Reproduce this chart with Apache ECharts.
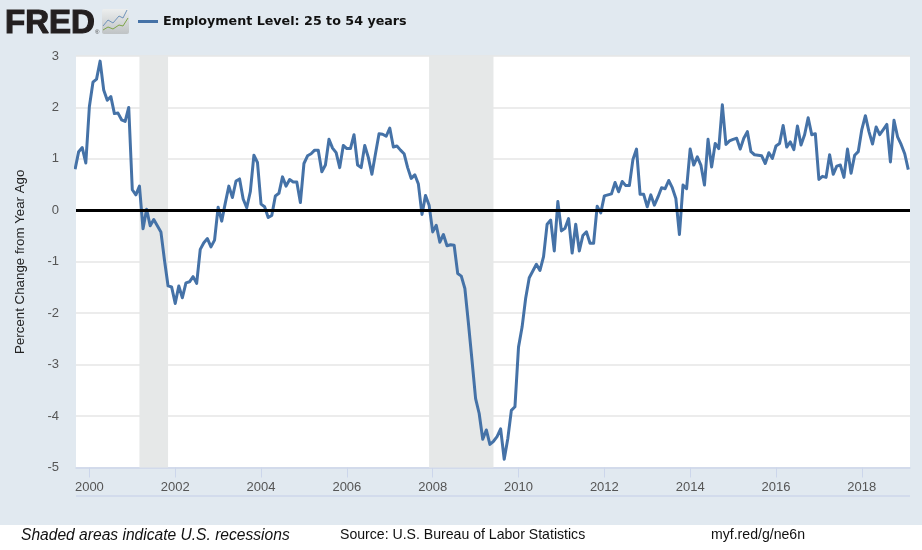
<!DOCTYPE html>
<html><head><meta charset="utf-8">
<style>html,body{margin:0;padding:0;background:#fff}#c{width:922px;height:550px}</style>
<script src="https://cdn.jsdelivr.net/npm/echarts@6/dist/echarts.min.js"></script>
</head><body><div id="c"></div>
<script>
const seriesName = 'Employment Level: 25 to 54 years';
const yAxisTitle = 'Percent Change from Year Ago';
const startYear = 1999, startMonth = 8; // September 1999, zero-based month
const values = [
0.80,1.14,1.22,0.92,2.02,2.49,2.55,2.90,2.34,2.14,2.21,1.88,1.89,1.76,1.73,2.00,0.40,0.30,0.47,-0.36,
0.02,-0.30,-0.18,-0.30,-0.42,-0.97,-1.47,-1.49,-1.81,-1.47,-1.70,-1.41,-1.39,-1.29,-1.42,-0.76,-0.63,-0.55,-0.71,-0.58,
0.06,-0.21,0.14,0.47,0.25,0.57,0.61,0.22,0.05,0.36,1.07,0.93,0.12,0.07,-0.14,-0.10,0.28,0.33,0.65,0.47,
0.60,0.55,0.55,0.15,0.91,1.06,1.10,1.17,1.17,0.75,0.88,1.38,1.21,1.12,0.83,1.26,1.20,1.20,1.47,0.88,
0.83,1.26,1.03,0.70,1.10,1.49,1.48,1.44,1.60,1.23,1.25,1.17,1.10,0.83,0.62,0.69,0.51,-0.08,0.29,0.10,
-0.42,-0.29,-0.62,-0.47,-0.69,-0.67,-0.68,-1.23,-1.28,-1.52,-2.20,-2.92,-3.66,-3.95,-4.45,-4.27,-4.55,-4.49,-4.40,-4.25,
-4.84,-4.44,-3.89,-3.82,-2.66,-2.27,-1.71,-1.31,-1.18,-1.05,-1.17,-0.90,-0.27,-0.19,-0.79,0.17,-0.40,-0.35,-0.16,-0.83,
-0.27,-0.79,-0.49,-0.42,-0.64,-0.64,0.08,-0.05,0.28,0.30,0.32,0.54,0.36,0.56,0.48,0.48,0.99,1.19,0.31,0.31,
0.07,0.30,0.10,0.26,0.44,0.42,0.58,0.44,0.23,-0.47,0.49,0.42,1.19,0.88,1.04,0.88,0.49,1.38,0.84,1.30,
1.20,2.05,1.28,1.35,1.38,1.40,1.19,1.40,1.53,1.14,1.08,1.07,1.06,0.91,1.12,1.01,1.25,1.30,1.65,1.23,
1.33,1.18,1.64,1.27,1.47,1.80,1.47,1.49,0.60,0.66,0.64,1.08,0.70,0.86,0.88,0.64,1.19,0.72,1.07,1.14,
1.57,1.84,1.53,1.29,1.62,1.47,1.57,1.67,0.94,1.75,1.43,1.28,1.10,0.79];
const recessionStarts = [[2001,2],[2007,11]];
const recessionEnds = [[2001,10],[2009,5]];
const tickYears = [2000,2002,2004,2006,2008,2010,2012,2014,2016,2018];
const yTicks = {min:-5, max:3, interval:1};
const viewStart = 1999.688, viewEnd = 2019.123;

const yearPos = (y,m)=>y+m/12;
const points = values.map((v,i)=>[yearPos(startYear,startMonth+i), v]);
const bands = recessionStarts.map((s,i)=>[{xAxis:yearPos(s[0],s[1])},{xAxis:yearPos(recessionEnds[i][0],recessionEnds[i][1])}]);

const chart = echarts.init(document.getElementById('c'),null,{renderer:'canvas'});
const T = (x,y,text,font,fill,extra)=>({type:'text',x,y,silent:true,style:Object.assign({text,font,fill,textVerticalAlign:'middle'},extra||{})});
chart.setOption({
  animation:false,
  backgroundColor:'#e1e9f0',
  grid:{left:76,right:12,top:56,bottom:82.5,show:true,backgroundColor:'#ffffff',borderWidth:0},
  legend:{
    left:133,top:10,data:[seriesName],icon:'rect',itemWidth:20,itemHeight:3,itemGap:6,
    selectedMode:false,
    textStyle:{fontFamily:'DejaVu Sans',fontWeight:'bold',fontSize:12.7,color:'#111',padding:[0,0,0,0]}
  },
  xAxis:{
    type:'value',min:viewStart,max:viewEnd,
    axisLine:{show:true,onZero:false,lineStyle:{color:'#ccd6eb',width:1.5}},
    axisTick:{show:true,length:10,customValues:tickYears,lineStyle:{color:'#ccd6eb',width:1}},
    axisLabel:{customValues:tickYears,margin:13,color:'#555',fontFamily:'Liberation Sans',fontSize:13,
      formatter:v=>String(v),hideOverlap:false},
    splitLine:{show:false},minorTick:{show:false}
  },
  yAxis:{
    type:'value',min:yTicks.min,max:yTicks.max,interval:yTicks.interval,
    name:yAxisTitle,nameLocation:'middle',nameGap:49,nameRotate:90,
    nameTextStyle:{color:'#222',fontFamily:'Liberation Sans',fontSize:13.3},
    axisLine:{show:false},axisTick:{show:false},
    axisLabel:{margin:17,color:'#555',fontFamily:'Liberation Sans',fontSize:13},
    splitLine:{show:true,lineStyle:{color:'#e6e6e6',width:1.5}}
  },
  series:[
    {name:'Recessions',type:'line',data:[],z:1,silent:true,
     markArea:{silent:true,itemStyle:{color:'#e6e8e8',opacity:1},label:{show:false},data:bands}},
    {name:seriesName,type:'line',data:points,z:3,showSymbol:false,symbol:'none',smooth:false,
     lineStyle:{color:'#4572a7',width:3,join:'round'},itemStyle:{color:'#4572a7'},clip:true},
    {name:'Zero',type:'line',data:[],z:4,silent:true,
     markLine:{silent:true,symbol:'none',label:{show:false},lineStyle:{color:'#000',width:3,type:'solid'},data:[{yAxis:0}]}}
  ],
  graphic:[
    {type:'rect',silent:true,z:-1,shape:{x:0,y:525,width:922,height:25},style:{fill:'#ffffff'}},
    {type:'line',silent:true,shape:{x1:76,y1:496,x2:910,y2:496},style:{stroke:'#ccd6eb',lineWidth:1.5}},
    T(5,24,'FRED','900 33px "Liberation Sans"','#231f20',{stroke:'#231f20',lineWidth:1.2}),
    T(95,32,'®','6px "Liberation Sans"','#444'),
    {type:'rect',silent:true,shape:{x:102,y:9,width:27,height:25,r:2},
      style:{fill:{type:'linear',x:0,y:0,x2:0,y2:1,colorStops:[{offset:0,color:'#eceeee'},{offset:1,color:'#bfc3c5'}]}}},
    {type:'polyline',silent:true,shape:{points:[[103,26],[108,20],[113,23],[119,16],[123,18],[127,10]]},style:{stroke:'#6f93ba',lineWidth:1,fill:null}},
    {type:'polyline',silent:true,shape:{points:[[103,30],[108,27],[113,29],[119,25],[123,26],[128,18]]},style:{stroke:'#7ea548',lineWidth:1,fill:null}},
    T(21,535.5,'Shaded areas indicate U.S. recessions','italic 15.6px "Liberation Sans"','#111'),
    T(340,535.5,'Source: U.S. Bureau of Labor Statistics','14.1px "Liberation Sans"','#111'),
    T(711,535.5,'myf.red/g/ne6n','14.1px "Liberation Sans"','#111')
  ]
});
</script></body></html>
